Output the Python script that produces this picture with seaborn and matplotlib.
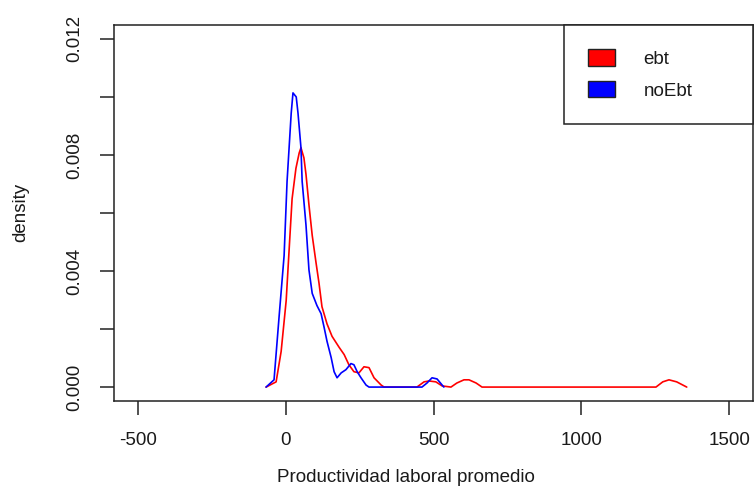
import matplotlib
matplotlib.use("Agg")
import matplotlib.pyplot as plt
from matplotlib.patches import Patch
import pandas as pd
import seaborn as sns

# Density estimates of average labour productivity, by group
ebt_x = [-66, -32, -15, 2, 12, 22, 35, 46, 52, 62, 69, 79, 90, 103, 113, 123,
         140, 157, 181, 198, 214, 231, 248, 265, 282, 299, 323, 333, 444, 468,
         485, 508, 529, 559, 579, 603, 620, 644, 664, 1252, 1275, 1296, 1322, 1356]
ebt_y = [0.0, 0.00018, 0.00123, 0.00298, 0.00474, 0.00649, 0.00754, 0.00807,
         0.00825, 0.00790, 0.00733, 0.00628, 0.00523, 0.00428, 0.00358, 0.00277,
         0.00218, 0.00175, 0.00137, 0.00112, 0.00077, 0.00053, 0.00049, 0.00070,
         0.00067, 0.00032, 0.00007, 0.0, 0.0, 0.00018, 0.00021, 0.00018, 0.00004,
         0.0, 0.00014, 0.00025, 0.00025, 0.00014, 0.0, 0.0, 0.00018, 0.00025,
         0.00018, 0.0]

noebt_x = [-66, -39, -22, -5, 5, 19, 25, 36, 42, 52, 56, 69, 79, 90, 106, 120,
           130, 140, 154, 164, 174, 188, 204, 221, 231, 242, 255, 272, 282, 461,
           478, 495, 512, 535]
noebt_y = [0.0, 0.00025, 0.00242, 0.00453, 0.00709, 0.00944, 0.01014, 0.01000,
           0.00944, 0.00825, 0.00709, 0.00558, 0.00404, 0.00323, 0.00281, 0.00253,
           0.00207, 0.00158, 0.00102, 0.00053, 0.00032, 0.00049, 0.00060, 0.00081,
           0.00077, 0.00053, 0.00032, 0.00007, 0.0, 0.0, 0.00014, 0.00032, 0.00028,
           0.0]

groups = ["ebt", "noEbt"]
colors = ["#ff0000", "#0000ff"]
x_ticks = [-500, 0, 500, 1000, 1500]
y_ticks = [0.000, 0.002, 0.004, 0.006, 0.008, 0.010, 0.012]
y_tick_labels = ["0.000", "", "0.004", "", "0.008", "", "0.012"]

df = pd.concat([
    pd.DataFrame({"x": ebt_x, "density": ebt_y, "group": "ebt"}),
    pd.DataFrame({"x": noebt_x, "density": noebt_y, "group": "noEbt"}),
])

sns.set_style("ticks")
plt.rcParams["font.family"] = ["Liberation Sans", "DejaVu Sans"]
text_color = "#1a1a1a"
fs = 13.5

fig = plt.figure(figsize=(7.56, 4.88), dpi=100)
ax = fig.add_axes([114 / 756, 1 - 401 / 488, (753 - 114) / 756, (401 - 25) / 488])

for g, c in zip(groups, colors):
    sub = df[df["group"] == g]
    sns.lineplot(data=sub, x="x", y="density", sort=False, estimator=None,
                 color=c, linewidth=1.2, ax=ax)

# axis ranges with the usual 4% padding
ax.set_xlim(-500 - 80, 1500 + 80)
ax.set_ylim(-0.012 * 0.04, 0.012 * 1.04)

ax.set_xticks(x_ticks)
ax.set_xticklabels([str(t) for t in x_ticks], fontsize=fs, color=text_color)
ax.set_yticks(y_ticks)
ax.set_yticklabels(y_tick_labels, fontsize=fs, color=text_color, rotation=90, va="center")
ax.tick_params(axis="both", direction="out", length=10, width=1.1, color="#222222")
ax.tick_params(axis="x", pad=12)
ax.tick_params(axis="y", pad=12)

for s in ax.spines.values():
    s.set_visible(True)
    s.set_color("#222222")
    s.set_linewidth(1.1)

ax.set_xlabel("Productividad laboral promedio", fontsize=fs, color=text_color, labelpad=20)
ax.xaxis.set_label_coords((406 - 114) / 639, -(478 - 401) / 376)
ax.xaxis.label.set_va("center")
ax.set_ylabel("density", fontsize=fs, color=text_color)
ax.yaxis.set_label_coords(-(114 - 21) / 639, (401 - 212) / 376)
ax.yaxis.label.set_va("center")

handles = [Patch(facecolor=c, edgecolor="#222222", linewidth=1.0) for c in colors]
leg = ax.legend(handles, groups, loc="upper right",
                bbox_to_anchor=((564 - 114) / 639, 0, 1 - (564 - 114) / 639, 1.0),
                mode="expand", borderaxespad=0, fancybox=False, framealpha=1,
                edgecolor="#222222", fontsize=fs, handlelength=1.4,
                handleheight=0.96, borderpad=1.3, labelspacing=0.7, handletextpad=1.55)
leg.get_frame().set_linewidth(1.1)
for t in leg.get_texts():
    t.set_color(text_color)

fig.savefig("out.png", dpi=100)
